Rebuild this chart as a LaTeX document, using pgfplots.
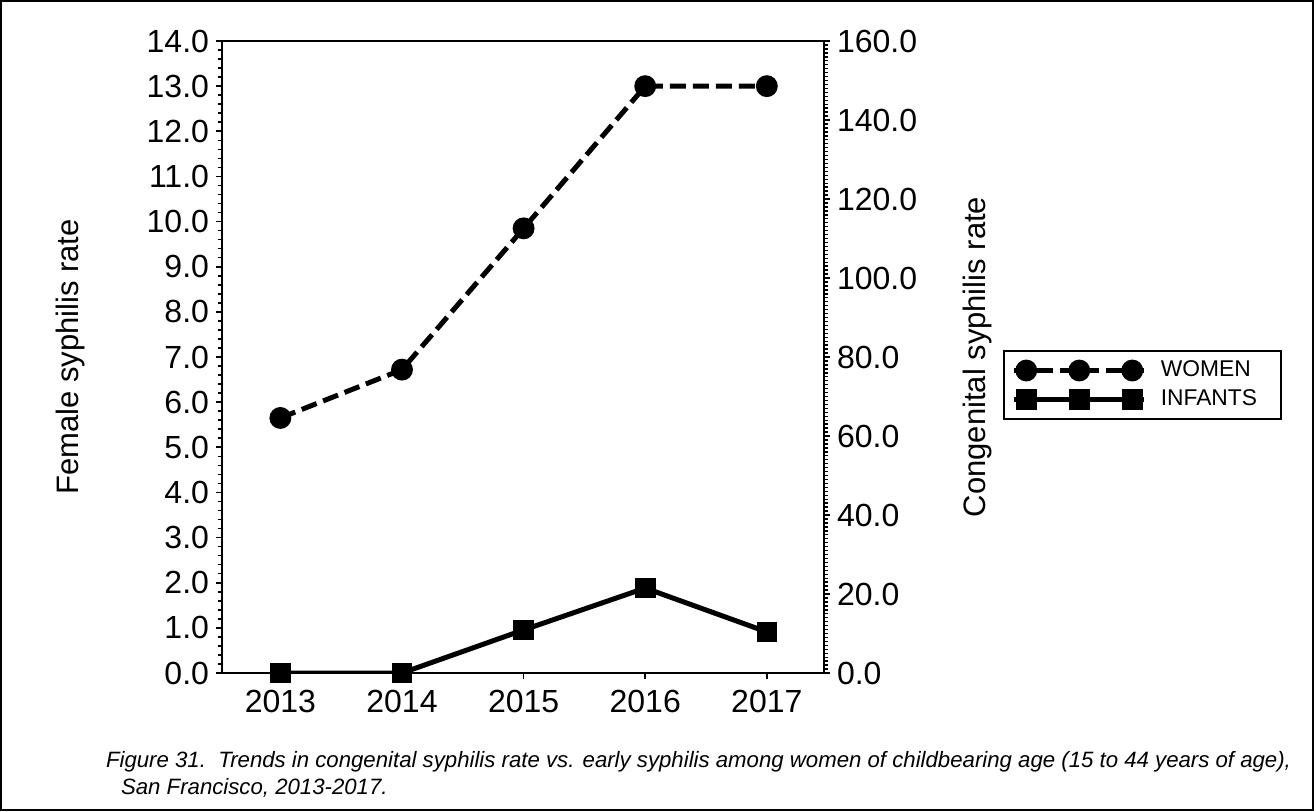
\documentclass[border=0pt]{standalone}
\usepackage{fontspec}
\setmainfont{Liberation Sans}
\usepackage{pgfplots}
\pgfplotsset{compat=1.18}

\begin{document}
\begin{tikzpicture}
\pgfplotsset{
  common/.style={
    scale only axis, width=301pt, height=316pt,
    xmin=2012.52, xmax=2017.47,
    /pgf/number format/assume math mode=true,
    tick label style={font=\fontsize{16}{19}\selectfont},
    tick align=outside,
    major tick length=3pt, minor tick length=1.8pt,
    every tick/.style={black, line width=0.8pt},
    axis line style={line width=0.9pt},
  },
  women/.style={black, line width=2.5pt, dash pattern=on 8pt off 3.5pt,
    mark=*, mark size=4.2pt, mark options={solid}},
  infants/.style={black, line width=2.5pt, mark=square*, mark size=3.9pt,
    mark options={solid}},
}
\begin{axis}[common,
  ymin=0, ymax=14, ytick={0,1,...,14}, minor y tick num=4,
  xtick={2013,2014,2015,2016,2017},
  x tick label style={/pgf/number format/1000 sep={}, yshift=-2pt},
  xtick pos=left, ytick pos=left,
  y tick label style={/pgf/number format/.cd, fixed, fixed zerofill, precision=1},
  ylabel={Female syphilis rate},
  every axis y label/.style={at={(axis description cs:0,0.5)}, xshift=-76pt,
    rotate=90, anchor=center, font=\fontsize{15.5}{18}\selectfont},
]
% women, left axis
\addplot[women] coordinates {(2013,5.65) (2014,6.72) (2015,9.85) (2016,13.0) (2017,13.0)};
\end{axis}

\begin{axis}[common,
  ymin=0, ymax=160, ytick={0,20,...,160}, minor y tick num=19,
  axis x line=none, axis y line*=right,
  every minor tick/.style={line width=0.7pt},
  y tick label style={/pgf/number format/.cd, fixed, fixed zerofill, precision=1},
  ylabel={Congenital syphilis rate},
  every axis y label/.style={at={(axis description cs:1,0.5)}, xshift=76.5pt,
    rotate=90, anchor=center, font=\fontsize{15.5}{18}\selectfont},
  legend style={at={(axis description cs:1.297,0.511)}, anchor=north west,
    draw=black, line width=1pt, font=\fontsize{11.4}{13}\selectfont,
    inner xsep=4pt, inner ysep=3pt, row sep=1pt,
    /tikz/every odd column/.append style={column sep=5pt}},
  legend cell align=left,
  legend image code/.code={
    \draw[#1, mark=none] (0pt,0pt) -- (65pt,0pt);
    \draw[#1, only marks] plot coordinates {(6pt,0pt) (32.5pt,0pt) (59pt,0pt)};
  },
]
\addlegendimage{women}
\addlegendentry{WOMEN}
% infants, right axis
\addplot[infants] coordinates {(2013,0) (2014,0) (2015,10.9) (2016,21.5) (2017,10.4)};
\addlegendentry{INFANTS\kern6pt\null}
\end{axis}

\node[anchor=base west, font=\fontsize{11.1}{13}\selectfont\itshape] at (-61.5pt,-47pt)
  {Figure 31.\ \ Trends in congenital syphilis rate vs. early syphilis among women of childbearing age (15 to 44 years of age),};
\node[anchor=base west, font=\fontsize{11.1}{13}\selectfont\itshape] at (-54pt,-60.5pt)
  {San Francisco, 2013-2017.};

\draw[line width=0.8pt] (-110.6pt,-68.6pt) rectangle (545.6pt,336.1pt);
\end{tikzpicture}
\end{document}
